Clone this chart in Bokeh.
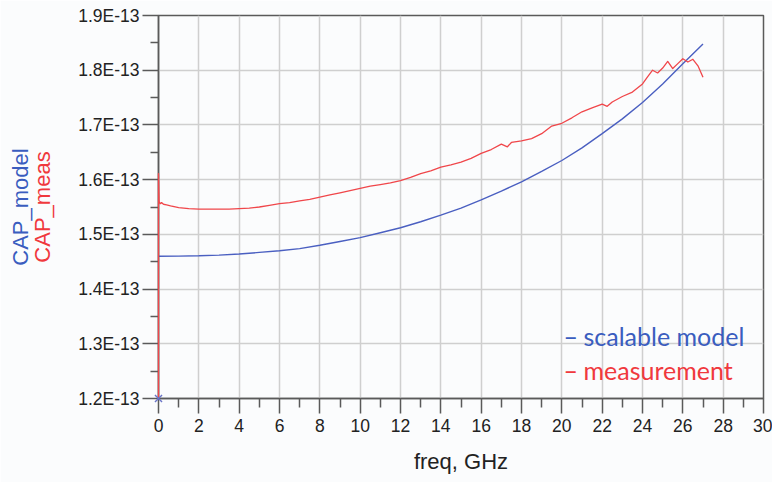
import math
from bokeh.plotting import figure
from bokeh.models import FixedTicker, CustomJSTickFormatter, Label, LinearAxis
from bokeh.embed import file_html
from bokeh.resources import INLINE

# ---- data ----
model_freq = [0, 1, 2, 3, 4, 5, 6, 7, 8, 9, 10, 11, 12, 13, 14, 15, 16, 17, 18,
              19, 20, 21, 22, 23, 24, 25, 26, 27]
model_cap = [1.460e-13, 1.4603e-13, 1.461e-13, 1.462e-13, 1.464e-13, 1.467e-13,
             1.470e-13, 1.474e-13, 1.480e-13, 1.487e-13, 1.494e-13, 1.503e-13,
             1.512e-13, 1.523e-13, 1.535e-13, 1.548e-13, 1.563e-13, 1.579e-13,
             1.596e-13, 1.615e-13, 1.635e-13, 1.658e-13, 1.684e-13, 1.711e-13,
             1.741e-13, 1.775e-13, 1.812e-13, 1.848e-13]

meas_freq = [0, 0, 0.03, 0.08, 0.15, 0.25, 0.4, 0.6, 1.0, 1.5, 2.0, 2.5, 3, 3.5,
             4, 4.5, 5, 5.5, 6, 6.5, 7, 7.5, 8, 8.5, 9, 9.5, 10, 10.5, 11, 11.5,
             12, 12.5, 13, 13.5, 14, 14.5, 15, 15.5, 16, 16.5, 17, 17.3, 17.5,
             18, 18.5, 19, 19.5, 20, 20.5, 21, 21.5, 22, 22.25, 22.5, 23, 23.5,
             24, 24.25, 24.5, 24.75, 25, 25.25, 25.5, 25.75, 26, 26.25, 26.5,
             26.75, 27]
meas_cap = [1.200e-13, 1.611e-13, 1.560e-13, 1.556e-13, 1.558e-13, 1.555e-13,
            1.554e-13, 1.552e-13, 1.549e-13, 1.547e-13, 1.546e-13, 1.546e-13,
            1.546e-13, 1.546e-13, 1.547e-13, 1.548e-13, 1.550e-13, 1.553e-13,
            1.556e-13, 1.558e-13, 1.561e-13, 1.564e-13, 1.568e-13, 1.572e-13,
            1.576e-13, 1.580e-13, 1.584e-13, 1.588e-13, 1.591e-13, 1.594e-13,
            1.598e-13, 1.604e-13, 1.611e-13, 1.616e-13, 1.623e-13, 1.627e-13,
            1.632e-13, 1.639e-13, 1.648e-13, 1.655e-13, 1.665e-13, 1.660e-13,
            1.668e-13, 1.671e-13, 1.675e-13, 1.684e-13, 1.698e-13, 1.703e-13,
            1.713e-13, 1.724e-13, 1.731e-13, 1.738e-13, 1.734e-13, 1.742e-13,
            1.752e-13, 1.760e-13, 1.775e-13, 1.788e-13, 1.800e-13, 1.795e-13,
            1.804e-13, 1.816e-13, 1.803e-13, 1.812e-13, 1.821e-13, 1.815e-13,
            1.820e-13, 1.808e-13, 1.787e-13]

x_ticks = [0, 2, 4, 6, 8, 10, 12, 14, 16, 18, 20, 22, 24, 26, 28, 30]
x_minor = [1, 3, 5, 7, 9, 11, 13, 15, 17, 19, 21, 23, 25, 27, 29]
y_ticks = [1.2e-13, 1.3e-13, 1.4e-13, 1.5e-13, 1.6e-13, 1.7e-13, 1.8e-13, 1.9e-13]
y_minor = [1.25e-13, 1.35e-13, 1.45e-13, 1.55e-13, 1.65e-13, 1.75e-13, 1.85e-13]

marker_freq = [0]
marker_cap = [1.2e-13]

BLUE = "#4a5fc1"
RED = "#f0464a"
TBLUE = "#3a5dbf"
TRED = "#f0393d"
BG = "#fbfcfd"
AX = "#5a5a5a"
FONT = "Liberation Sans"

W, H = 772, 482
FL, FB = 158, 398   # frame left / bottom on the canvas
p = figure(width=W, height=H, output_backend="svg", toolbar_location=None,
           x_range=(0, 30), y_range=(1.2e-13, 1.9e-13),
           min_border_left=FL, min_border_right=9, min_border_top=15,
           min_border_bottom=H - FB)
p.background_fill_color = BG
p.border_fill_color = BG
p.outline_line_color = AX
p.outline_line_width = 1.5

p.xaxis.ticker = FixedTicker(ticks=x_ticks, minor_ticks=x_minor)
p.yaxis.ticker = FixedTicker(ticks=y_ticks, minor_ticks=y_minor)
p.yaxis.formatter = CustomJSTickFormatter(code="return (tick*1e13).toFixed(1) + 'E-13';")

for ax in (p.xaxis, p.yaxis):
    ax.axis_line_color = AX
    ax.axis_line_width = 1.5
    ax.major_tick_line_color = AX
    ax.major_tick_line_width = 1.5
    ax.minor_tick_line_color = AX
    ax.minor_tick_line_width = 1.5
    ax.major_tick_in = 0
    ax.minor_tick_in = 0
    ax.major_label_text_font = FONT
    ax.major_label_text_font_size = "17.5px"
    ax.major_label_text_color = "#222222"

p.xaxis.major_tick_out = 15
p.xaxis.minor_tick_out = 9
p.xaxis.major_label_standoff = 5
p.yaxis.major_tick_out = 16
p.yaxis.minor_tick_out = 8
p.yaxis.major_label_standoff = 3

p.xaxis.axis_label = "freq, GHz"
p.xaxis.axis_label_text_font = FONT
p.xaxis.axis_label_text_font_size = "22px"
p.xaxis.axis_label_text_font_style = "normal"
p.xaxis.axis_label_text_color = "#222222"
p.xaxis.axis_label_standoff = 14

# y-axis titles: red one on the main axis, blue one on an extra bare axis
p.yaxis.axis_label = "CAP_meas"
p.yaxis.axis_label_text_font = FONT
p.yaxis.axis_label_text_font_size = "22px"
p.yaxis.axis_label_text_font_style = "normal"
p.yaxis.axis_label_text_color = TRED
p.yaxis.axis_label_standoff = 20

ax2 = LinearAxis(axis_label="CAP_model", ticker=FixedTicker(ticks=[]),
                 axis_line_color=None, major_tick_out=0, minor_tick_out=0,
                 major_tick_in=0, minor_tick_in=0,
                 major_label_text_font_size="0px",
                 axis_label_text_font=FONT, axis_label_text_font_size="22px",
                 axis_label_text_font_style="normal",
                 axis_label_text_color=TBLUE, axis_label_standoff=-5)
p.add_layout(ax2, "left")

p.xgrid.grid_line_color = "#cfcfcf"
p.ygrid.grid_line_color = "#cfcfcf"
p.xgrid.grid_line_width = 1.5
p.ygrid.grid_line_width = 1.5

p.line(model_freq, model_cap, line_color=BLUE, line_width=1.4)
p.line(meas_freq, meas_cap, line_color=RED, line_width=1.3, line_join="round",
       level="overlay")
p.scatter(marker_freq, marker_cap, marker="x", size=10, line_color="#6a74c8",
          line_width=1.4, level="overlay")

# screen units are relative to the frame's bottom-left corner
def fx(X):
    return X - FL

def fy(Y):
    return FB - Y

for txt, x0, ytop, col in [("\u2013", 563, 335, TBLUE),
                           ("scalable model", 583, 335, TBLUE),
                           ("\u2013", 563, 369, TRED),
                           ("measurement", 583, 369, TRED)]:
    p.add_layout(Label(x=fx(x0), y=fy(ytop), x_units="screen", y_units="screen",
                       text=txt, text_align="left", text_baseline="middle",
                       text_font="Lato", text_font_size="25px", text_color=col))

open("out.html", "w").write(file_html(p, INLINE))
